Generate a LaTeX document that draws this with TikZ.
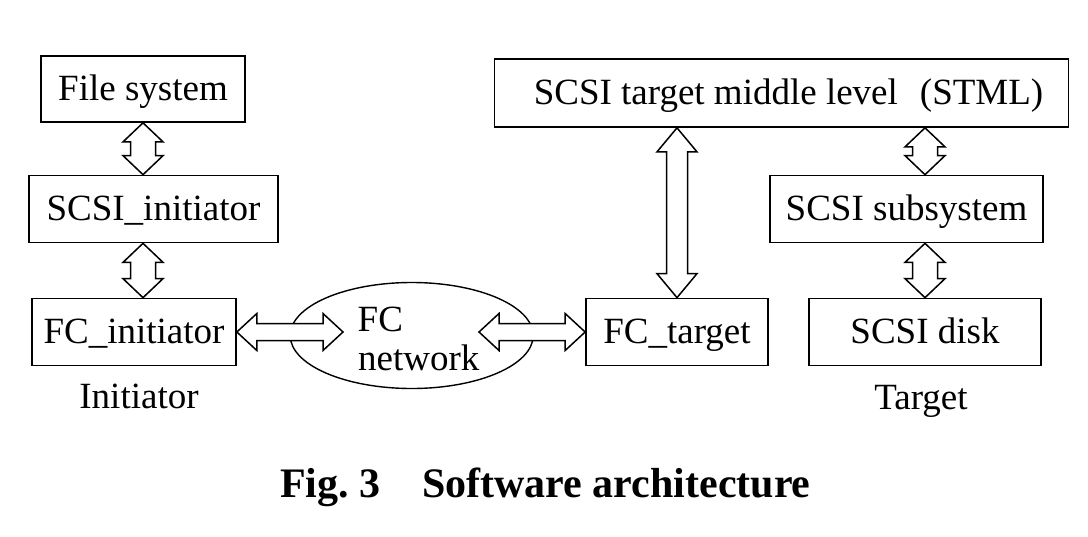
\documentclass[tikz,border=0pt]{standalone}
\usepackage{fontspec}
\setmainfont{Liberation Serif}
\usetikzlibrary{shapes.geometric,calc}
\tikzset{
  box/.style={draw, line width=1.7pt, inner sep=0pt, text height=30pt, text depth=8pt,
              font=\fontsize{37}{40}\selectfont},
  lbl/.style={inner sep=0pt, font=\fontsize{37}{40}\selectfont},
  captext/.style={inner sep=0pt, font=\fontsize{42}{44}\selectfont\bfseries},
  blk/.style={draw, line width=1.5pt, fill=white, line join=miter},
}
% vertical double block arrow: #1 top end, #2 bottom end, #3 shaft half, #4 head half, #5 head length
\newcommand\vdarrow[5]{%
  \draw[blk] let \p1=(#1), \p2=(#2) in
    (\x1,\y1) -- ({\x1-#4},{\y1-#5}) -- ({\x1-#3},{\y1-#5}) -- ({\x1-#3},{\y2+#5})
    -- ({\x1-#4},{\y2+#5}) -- (\x1,\y2) -- ({\x1+#4},{\y2+#5}) -- ({\x1+#3},{\y2+#5})
    -- ({\x1+#3},{\y1-#5}) -- ({\x1+#4},{\y1-#5}) -- cycle;}
% horizontal double block arrow: #1 left end, #2 right end
\newcommand\hdarrow[5]{%
  \draw[blk] let \p1=(#1), \p2=(#2) in
    (\x1,\y1) -- ({\x1+#5},{\y1+#4}) -- ({\x1+#5},{\y1+#3}) -- ({\x2-#5},{\y1+#3})
    -- ({\x2-#5},{\y1+#4}) -- (\x2,\y1) -- ({\x2-#5},{\y1-#4}) -- ({\x2-#5},{\y1-#3})
    -- ({\x1+#5},{\y1-#3}) -- ({\x1+#5},{\y1-#4}) -- cycle;}
\begin{document}
\begin{tikzpicture}[x=1pt,y=-1pt]
\useasboundingbox[fill=white] (0,0) rectangle (1088,536);
% left side
\node[box, minimum width=204pt, minimum height=66pt] (fs) at (143,89) {File system};
\node[box, minimum width=249pt, minimum height=67pt] (si) at (153.5,209) {SCSI\_initiator};
\node[box, minimum width=204pt, minimum height=67pt] (fi) at (134,332) {FC\_initiator};
\node[lbl, anchor=base] (ini) at (139,408.5) {Initiator};
% network
\node[draw, ellipse, line width=1.4pt, minimum width=243pt, minimum height=106pt,
      inner sep=0pt] (net) at (411.7,335.5) {};
\node[lbl, anchor=base west] (fc) at (357.5,331.7) {FC};
\node[lbl, anchor=base west] (nw) at (358,370.7) {network};
\coordinate (netL) at (343,332);
\coordinate (netR) at (479,332);
% right side
\node[box, minimum width=574pt, minimum height=68pt] (stml) at (781.5,93)
  {\hspace*{14pt}SCSI target middle level\hspace{22pt}(STML)};
\node[box, minimum width=273pt, minimum height=67pt] (sub) at (906.5,209) {SCSI subsystem};
\node[box, minimum width=182pt, minimum height=67pt] (ft) at (677,332) {FC\_target};
\node[box, minimum width=232pt, minimum height=67pt] (disk) at (925,332) {SCSI disk};
\node[lbl, anchor=base] (tgt) at (921,409) {Target};
% arrows
\vdarrow{fs.south}{fs.south |- si.north}{12.5pt}{20pt}{19pt}
\vdarrow{fs.south |- si.south}{fs.south |- fi.north}{12.5pt}{20pt}{19pt}
\vdarrow{ft.north |- stml.south}{ft.north}{10.5pt}{20pt}{24pt}
\vdarrow{disk.north |- stml.south}{disk.north |- sub.north}{12.5pt}{20pt}{19pt}
\vdarrow{disk.north |- sub.south}{disk.north}{12.5pt}{20pt}{19pt}
\hdarrow{fi.east}{netL}{8.5pt}{18.5pt}{20pt}
\hdarrow{netR}{ft.west}{8.5pt}{18.5pt}{20pt}
% caption
\node[captext, anchor=base west] (capnum) at (280,497) {Fig.\ 3};
\node[captext, anchor=base west] (captxt) at (422,497) {Software architecture};
\end{tikzpicture}
\end{document}
